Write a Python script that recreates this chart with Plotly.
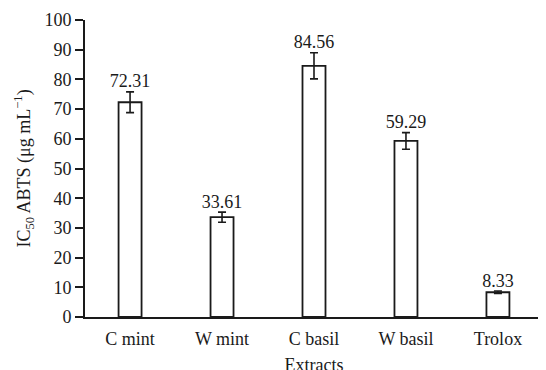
import plotly.graph_objects as go

categories = ["C mint", "W mint", "C basil", "W basil", "Trolox"]
values = [72.31, 33.61, 84.56, 59.29, 8.33]
errors = [3.5, 1.7, 4.4, 2.8, 0.4]
labels = ["72.31", "33.61", "84.56", "59.29", "8.33"]

font = "Liberation Serif, Times New Roman, serif"
ink = "#1a1a1a"

fig = go.Figure()
fig.add_trace(go.Bar(
    x=categories, y=values, width=0.25,
    marker=dict(color="white", line=dict(color=ink, width=1.8)),
    error_y=dict(type="data", array=errors, visible=True, color=ink, thickness=1.6, width=4),
    showlegend=False,
))
fig.add_trace(go.Scatter(
    x=categories, y=[v + e for v, e in zip(values, errors)], mode="text",
    text=labels, textposition="top center",
    textfont=dict(family=font, size=18, color=ink), showlegend=False,
))
fig.update_layout(
    width=546, height=370, plot_bgcolor="white", paper_bgcolor="white",
    margin=dict(l=77, r=11, t=12, b=61),
    font=dict(family=font, size=18, color=ink),
)
fig.add_annotation(
    text="IC<sub>50</sub> ABTS (μg mL<sup>−1</sup>)", textangle=-90,
    xref="paper", yref="paper", x=0, y=0.5, xanchor="center", yanchor="middle",
    xshift=-61, showarrow=False, font=dict(family=font, size=18, color=ink),
)
fig.update_xaxes(
    range=[-0.49, 4.49], showline=True, linecolor=ink, linewidth=1.8,
    ticks="outside", ticklen=4, tickcolor="rgba(0,0,0,0)", showgrid=False,
    automargin=False,
    title=dict(text="Extracts", standoff=11, font=dict(size=18)),
)
fig.update_yaxes(
    range=[0, 100], dtick=10, showline=True, linecolor=ink, linewidth=1.8,
    ticks="outside", ticklen=8, tickwidth=1.6, tickcolor=ink, showgrid=False,
    zeroline=False, automargin=False,
)
fig.write_html("out.html")
